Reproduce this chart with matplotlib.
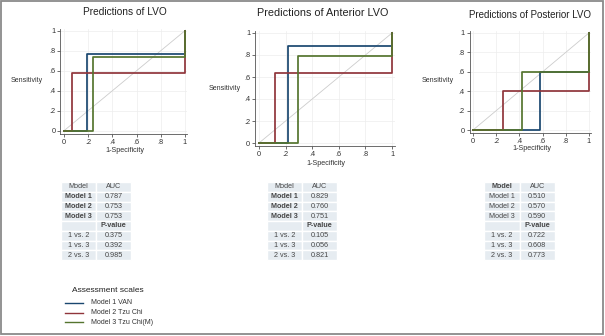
import matplotlib.pyplot as plt
from matplotlib.patches import Rectangle
from matplotlib.lines import Line2D

plt.rcParams['font.family'] = ['Liberation Sans', 'DejaVu Sans']

titles = ["Predictions of LVO", "Predictions of Anterior LVO", "Predictions of Posterior LVO"]
models = ["Model 1 VAN", "Model 2 Tzu Chi", "Model 3 Tzu Chi(M)"]
colors = ["#1a476f", "#90353b", "#55752f"]

# one cut point per model: (1-specificity, sensitivity)
fpr_cut = [[0.19, 0.07, 0.24], [0.22, 0.12, 0.29], [0.58, 0.26, 0.42]]
sens_cut = [[0.77, 0.58, 0.74], [0.88, 0.64, 0.79], [0.60, 0.40, 0.60]]

auc = [["0.787", "0.753", "0.753"], ["0.829", "0.760", "0.751"], ["0.510", "0.570", "0.590"]]
comparisons = ["1 vs. 2", "1 vs. 3", "2 vs. 3"]
pvals = [["0.375", "0.392", "0.985"], ["0.105", "0.056", "0.821"], ["0.722", "0.608", "0.773"]]

ticks = [0, 0.2, 0.4, 0.6, 0.8, 1]
tick_labels = ["0", ".2", ".4", ".6", ".8", "1"]

W, H = 605, 336
fig = plt.figure(figsize=(W / 100, H / 100), dpi=100)

def fx(px):
    return px / W

def fy(py):
    return 1 - py / H

# layout in pixels: (left, right, top, bottom)
ax_box = [(60.4, 187.4, 28.7, 133.7), (255, 394.7, 30.8, 146.3), (469.5, 591.3, 31, 133)]
title_pos = [(125, 12, 7.3), (323, 13, 7.8), (530, 15, 7.0)]
sens_pos = [(43, 80), (241, 88), (454, 81)]
spec_pos = [(125, 150), (326, 163), (532, 148)]
table_box = [(61, 131), (267, 337), (484, 555)]

for i in range(3):
    l, r, t, b = ax_box[i]
    ax = fig.add_axes([fx(l), fy(b), (r - l) / W, (b - t) / H])
    ax.plot([0, 1], [0, 1], color="#cccccc", lw=0.6, zorder=1)
    for m in range(3):
        f, s = fpr_cut[i][m], sens_cut[i][m]
        ax.plot([0, f, f, 1, 1], [0, 0, s, s, 1], color=colors[m], lw=1.25, zorder=2 + m)
    ax.set_xlim(-0.03, 1.02)
    ax.set_ylim(-0.03, 1.02)
    ax.set_xticks(ticks)
    ax.set_xticklabels(tick_labels)
    ax.set_yticks(ticks)
    ax.set_yticklabels(tick_labels)
    ax.grid(True, color="#ededed", lw=0.5)
    ax.set_axisbelow(True)
    for sp in ["top", "right"]:
        ax.spines[sp].set_visible(False)
    for sp in ["left", "bottom"]:
        ax.spines[sp].set_color("#555555")
        ax.spines[sp].set_linewidth(0.6)
    ax.tick_params(labelsize=5.3, length=2, width=0.5, pad=1.5, colors="#333333")

    tx, ty, ts = title_pos[i]
    fig.text(fx(tx), fy(ty), titles[i], ha="center", va="center", fontsize=ts, color="#222222")
    fig.text(fx(sens_pos[i][0]), fy(sens_pos[i][1]), "Sensitivity", ha="right", va="center",
             fontsize=5, color="#333333")
    fig.text(fx(spec_pos[i][0]), fy(spec_pos[i][1]), "1-Specificity", ha="center", va="center",
             fontsize=5.2, color="#333333")

    # AUC / p-value table
    cells = [["Model", "AUC"]]
    cells += [["Model %d" % (k + 1), auc[i][k]] for k in range(3)]
    cells += [["", "P-value"]]
    cells += [[comparisons[k], pvals[i][k]] for k in range(3)]
    x0, x1 = table_box[i]
    tax = fig.add_axes([fx(x0), fy(260), (x1 - x0) / W, 78 / H])
    tax.axis("off")
    tb = tax.table(cellText=cells, bbox=[0, 0, 1, 1], cellLoc="center")
    tb.auto_set_font_size(False)
    for (rr, cc), cell in tb.get_celld().items():
        cell.set_facecolor("#e6ecf1")
        cell.set_edgecolor("white")
        cell.set_linewidth(1.0)
        txt = cell.get_text()
        txt.set_fontsize(5.2)
        txt.set_color("#474747")
        bold = (cc == 0 and 1 <= rr <= 3 and i < 2) or (rr == 4) or (i == 2 and rr == 0 and cc == 0)
        if bold:
            txt.set_fontweight("bold")

# legend
fig.text(fx(72), fy(291), "Assessment scales", ha="left", va="center", fontsize=6, color="#222222")
for m in range(3):
    yy = fy(303 + m * 9.5)
    fig.add_artist(Line2D([fx(65), fx(83)], [yy, yy], color=colors[m], lw=1.0, transform=fig.transFigure))
    fig.text(fx(91), yy, models[m], ha="left", va="center", fontsize=5, color="#333333")

# outer frame
fig.add_artist(Rectangle((fx(0.8), fy(334)), fx(602.5), 333 / H, fill=False,
                         edgecolor="#8a8a8a", lw=1.3, transform=fig.transFigure))

fig.savefig("out.png", dpi=100)
